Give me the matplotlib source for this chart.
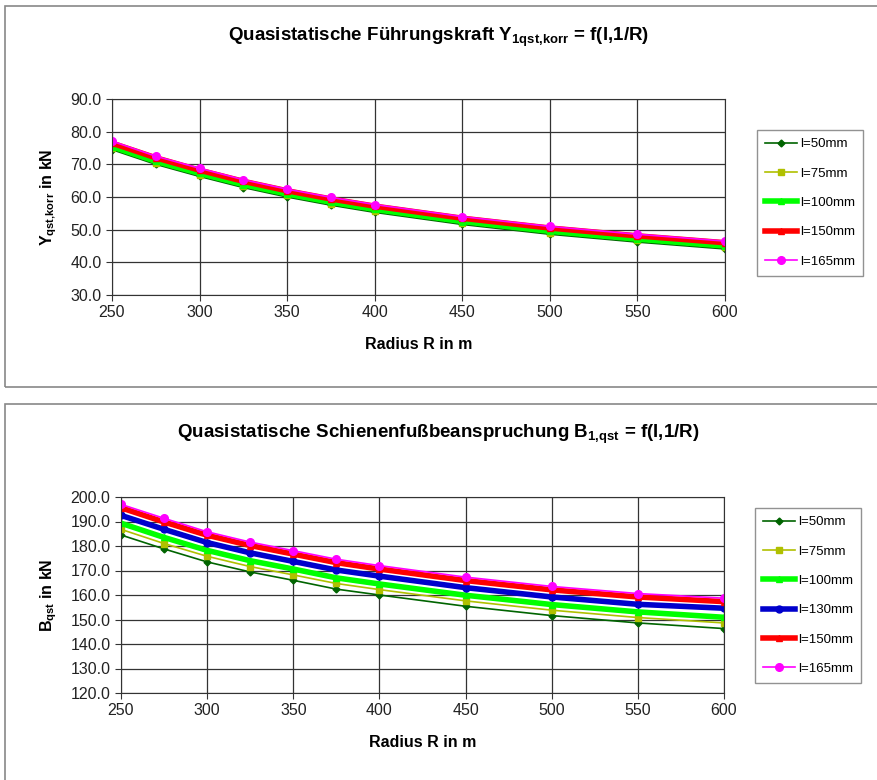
import numpy as np
import matplotlib
matplotlib.use("Agg")
from matplotlib import pyplot as plt
from matplotlib.patches import Rectangle

plt.rcParams['font.family'] = ['Liberation Sans', 'DejaVu Sans']

# Radius values (x)
radius = [250, 275, 300, 325, 350, 375, 400, 450, 500, 550, 600]

# top chart: Y_1qst,korr in kN
y_50 = [74.5, 70.0, 66.3, 62.9, 60.0, 57.5, 55.3, 51.6, 48.6, 46.2, 44.1]
y_75 = [75.0, 70.5, 66.8, 63.4, 60.5, 58.0, 55.8, 52.1, 49.1, 46.7, 44.6]
y_100 = [75.4, 70.9, 67.2, 63.8, 60.9, 58.4, 56.2, 52.5, 49.5, 47.1, 45.0]
y_150 = [76.5, 72.0, 68.2, 64.8, 61.9, 59.4, 57.2, 53.5, 50.5, 48.1, 46.0]
y_165 = [77.1, 72.5, 68.8, 65.3, 62.4, 59.9, 57.7, 54.0, 51.0, 48.6, 46.5]

# bottom chart: B_1,qst in kN
b_50 = [184.5, 178.8, 173.5, 169.4, 166.0, 162.4, 160.0, 155.4, 151.6, 148.6, 146.3]
b_75 = [186.8, 181.0, 175.8, 171.6, 168.2, 164.7, 162.2, 157.6, 153.8, 150.8, 148.6]
b_100 = [189.3, 183.5, 178.2, 174.0, 170.6, 167.0, 164.5, 159.9, 156.1, 153.1, 150.9]
b_130 = [192.5, 186.8, 181.4, 177.2, 173.7, 170.2, 167.7, 163.0, 159.2, 156.2, 154.6]
b_150 = [195.6, 189.8, 184.4, 180.2, 176.7, 173.2, 170.6, 165.9, 162.1, 159.2, 157.3]
b_165 = [197.0, 191.3, 185.8, 181.6, 178.1, 174.6, 172.0, 167.3, 163.5, 160.6, 158.7]

W, H = 877, 780
fig = plt.figure(figsize=(W / 100, H / 100), dpi=100)

def fx(px):
    return px / W

def fy(py):
    return 1 - py / H

# panel frames
for y0, y1 in [(6, 387), (404, 782)]:
    fig.patches.append(Rectangle((fx(5), fy(y1)), fx(W + 5) - fx(5), fy(y0) - fy(y1),
                                 transform=fig.transFigure, fill=False,
                                 edgecolor="#888888", linewidth=1.2))

styles = {
    "l=50mm": dict(color="#006400", lw=1.2, marker="D", ms=3.5),
    "l=75mm": dict(color="#b0c000", lw=1.2, marker="s", ms=4.5),
    "l=100mm": dict(color="#00ff00", lw=4.0, marker="^", ms=4),
    "l=130mm": dict(color="#0000cc", lw=4.0, marker="o", ms=5),
    "l=150mm": dict(color="#ff0000", lw=4.0, marker="^", ms=5),
    "l=165mm": dict(color="#ff00ff", lw=1.2, marker="o", ms=5.5),
}

def make_ax(left, right, top, bottom):
    return fig.add_axes([fx(left), fy(bottom), fx(right) - fx(left), fy(top) - fy(bottom)])

def style_ax(ax, ylo, yhi, ystep):
    ax.set_xlim(250, 600)
    ax.set_ylim(ylo, yhi)
    ax.set_xticks([250, 300, 350, 400, 450, 500, 550, 600])
    ax.set_yticks(np.arange(ylo, yhi + 0.1, ystep))
    ax.yaxis.set_major_formatter(matplotlib.ticker.FormatStrFormatter("%.1f"))
    ax.grid(True, color="#333333", linewidth=0.9)
    ax.tick_params(axis="both", labelsize=11.5, direction="out", length=4,
                   color="#333333", labelcolor="#222222")
    for s in ax.spines.values():
        s.set_color("#333333")
    ax.set_xlabel("Radius R in m", fontsize=11.5, fontweight="bold", labelpad=12)

leg_kw = dict(loc="upper left", bbox_transform=fig.transFigure, fontsize=9.5,
              frameon=True, fancybox=False, edgecolor="#777777", handlelength=2.4,
              labelspacing=1.3, borderpad=0.6, handletextpad=0.3, borderaxespad=0)

# top chart
ax1 = make_ax(112, 725, 99, 295)
for name, vals in [("l=50mm", y_50), ("l=75mm", y_75), ("l=100mm", y_100),
                   ("l=150mm", y_150), ("l=165mm", y_165)]:
    ax1.plot(radius, vals, label=name, **styles[name])
style_ax(ax1, 30, 90, 10)
ax1.set_ylabel(r"Y$_{\mathregular{qst{,}korr}}$ in kN", fontsize=11.5, fontweight="bold", labelpad=8)
fig.text(0.5, fy(37), r"Quasistatische Führungskraft Y$_{\mathregular{1qst{,}korr}}$ = f(l,1/R)",
         ha="center", va="center", fontsize=13.5, fontweight="bold")
ax1.legend(bbox_to_anchor=(fx(757), fy(130)), **leg_kw)

# bottom chart
ax2 = make_ax(121, 724, 497, 693)
for name, vals in [("l=50mm", b_50), ("l=75mm", b_75), ("l=100mm", b_100),
                   ("l=130mm", b_130), ("l=150mm", b_150), ("l=165mm", b_165)]:
    ax2.plot(radius, vals, label=name, **styles[name])
style_ax(ax2, 120, 200, 10)
ax2.set_ylabel(r"B$_{\mathregular{qst}}$ in kN", fontsize=11.5, fontweight="bold", labelpad=8)
fig.text(0.5, fy(434), r"Quasistatische Schienenfußbeanspruchung B$_{\mathregular{1{,}qst}}$ = f(l,1/R)",
         ha="center", va="center", fontsize=13.5, fontweight="bold")
ax2.legend(bbox_to_anchor=(fx(755), fy(508)), **leg_kw)

fig.savefig("out.png", dpi=100)
